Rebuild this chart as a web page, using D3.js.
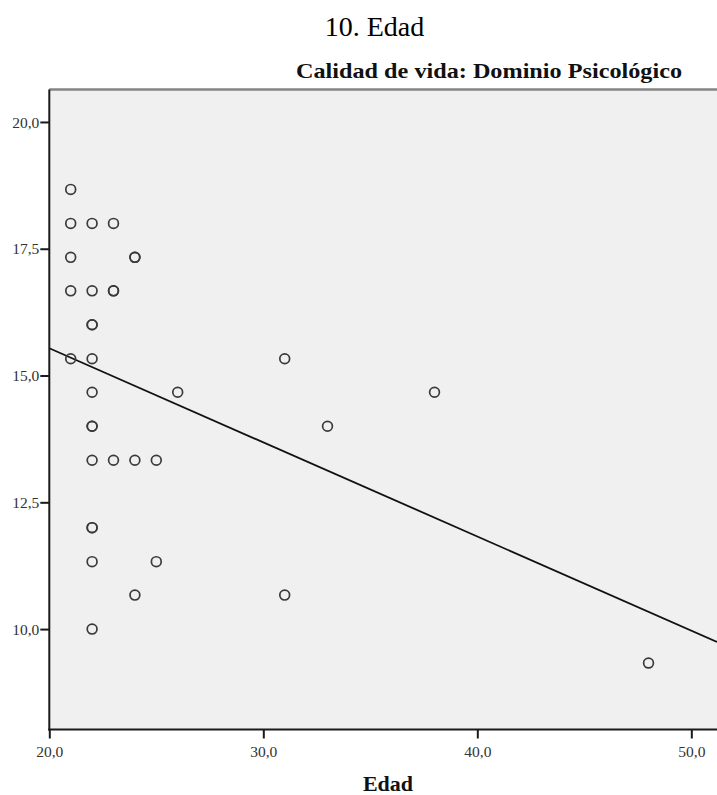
<!DOCTYPE html>
<html>
<head>
<meta charset="utf-8">
<script src="https://cdn.jsdelivr.net/npm/d3@7"></script>
<style>
  html, body { margin: 0; padding: 0; background: #ffffff; }
  svg { display: block; }
  svg text { font-family: "Liberation Serif", "Times New Roman", serif; }
</style>
</head>
<body>
<div id="chart"></div>
<script>
// Edad (years) and Calidad de vida – Dominio Psicológico score, one entry per participant
const edad = [
  21, 21, 21, 21, 21,
  22, 22, 22, 22, 22, 22, 22, 22, 22, 22, 22, 22, 22,
  23, 23, 23, 23,
  24, 24, 24, 24,
  25, 25,
  26,
  31, 31,
  33,
  38,
  48
];
const psico = [
  18.67, 18.00, 17.33, 16.67, 15.33,
  18.00, 16.67, 16.00, 16.00, 15.33, 14.67, 14.00, 14.00, 13.33, 12.00, 12.00, 11.33, 10.00,
  18.00, 16.67, 16.67, 13.33,
  17.33, 17.33, 13.33, 10.67,
  13.33, 11.33,
  14.67,
  15.33, 10.67,
  14.00,
  14.67,
  9.33
];

// Fit line at total: intercept and slope
const fitIntercept = 19.25;
const fitSlope = -0.1856;

const xTicks = [20, 30, 40, 50];
const yTicks = [10, 12.5, 15, 17.5, 20];
const xDomain = [20, 51.2];
const yDomain = [8.02, 20.64];

const chartTitle = "10. Edad";
const plotTitle = "Calidad de vida: Dominio Psicológico";
const xLabel = "Edad";

const serif = "'Liberation Serif', 'Times New Roman', serif";
const width = 717, height = 795;
const plot = { left: 49.3, right: 717, top: 89.5, bottom: 729.5 };

const svg = d3.select("#chart").append("svg")
  .attr("width", width)
  .attr("height", height);

const x = d3.scaleLinear().domain(xDomain).range([plot.left, plot.right]);
const y = d3.scaleLinear().domain(yDomain).range([plot.bottom, plot.top]);

const fmt = v => d3.format(".1f")(v).replace(".", ",");

// Titles
svg.append("text")
  .attr("x", 374.5).attr("y", 36)
  .attr("text-anchor", "middle")
  .style("font-family", serif)
  .style("font-size", "28px")
  .attr("fill", "#000")
  .text(chartTitle);

svg.append("text")
  .attr("x", 296).attr("y", 78)
  .attr("textLength", 386)
  .attr("lengthAdjust", "spacingAndGlyphs")
  .style("font-family", serif)
  .style("font-size", "22px")
  .style("font-weight", "bold")
  .attr("fill", "#111")
  .text(plotTitle);

// Plot background
svg.append("rect")
  .attr("x", plot.left).attr("y", plot.top)
  .attr("width", plot.right - plot.left + 5)
  .attr("height", plot.bottom - plot.top)
  .attr("fill", "#f0f0f0");

// Top frame edge
svg.append("line")
  .attr("x1", plot.left).attr("x2", width)
  .attr("y1", plot.top).attr("y2", plot.top)
  .attr("stroke", "#858585")
  .attr("stroke-width", 2.5);

svg.append("clipPath").attr("id", "plot-clip")
  .append("rect")
  .attr("x", plot.left).attr("y", plot.top)
  .attr("width", plot.right - plot.left + 5)
  .attr("height", plot.bottom - plot.top);

// Regression line
const fitY = v => fitIntercept + fitSlope * v;
svg.append("line")
  .attr("clip-path", "url(#plot-clip)")
  .attr("x1", x(xDomain[0])).attr("y1", y(fitY(xDomain[0])))
  .attr("x2", x(xDomain[1])).attr("y2", y(fitY(xDomain[1])))
  .attr("stroke", "#111")
  .attr("stroke-width", 1.8);

// Points
svg.append("g")
  .selectAll("circle")
  .data(edad.map((e, i) => ({ e, p: psico[i] })))
  .join("circle")
  .attr("cx", d => x(d.e))
  .attr("cy", d => y(d.p))
  .attr("r", 4.9)
  .attr("fill", "none")
  .attr("stroke", "#3a3a3a")
  .attr("stroke-width", 1.7);

// Axes
const xAxis = d3.axisBottom(x).tickValues(xTicks).tickFormat(fmt).tickSize(9).tickSizeOuter(0);
const yAxis = d3.axisLeft(y).tickValues(yTicks).tickFormat(fmt).tickSize(9).tickSizeOuter(0);

const gx = svg.append("g")
  .attr("transform", `translate(0,${plot.bottom})`)
  .call(xAxis);
gx.select(".domain").remove();
gx.append("line")
  .attr("x1", plot.left - 1).attr("x2", width)
  .attr("stroke", "#1a1a1a").attr("stroke-width", 2);

const gy = svg.append("g")
  .attr("transform", `translate(${plot.left},0)`)
  .call(yAxis);
gy.select(".domain").remove();
gy.append("line")
  .attr("y1", plot.top).attr("y2", plot.bottom + 1)
  .attr("stroke", "#1a1a1a").attr("stroke-width", 2);

[gx, gy].forEach(g => {
  g.attr("font-family", null).attr("font-size", null);
  g.selectAll(".tick line").attr("stroke", "#1a1a1a").attr("stroke-width", 2);
  g.selectAll(".tick text")
    .style("font-family", serif)
    .style("font-size", "15.5px")
    .attr("fill", "#333");
});
gx.selectAll(".tick text").attr("dy", null).attr("y", 27);
gy.selectAll(".tick text").attr("x", -10).attr("dy", "0.33em");

// X axis title
svg.append("text")
  .attr("x", 388).attr("y", 791)
  .attr("text-anchor", "middle")
  .style("font-family", serif)
  .style("font-size", "22px")
  .style("font-weight", "bold")
  .attr("fill", "#111")
  .text(xLabel);
</script>
</body>
</html>
